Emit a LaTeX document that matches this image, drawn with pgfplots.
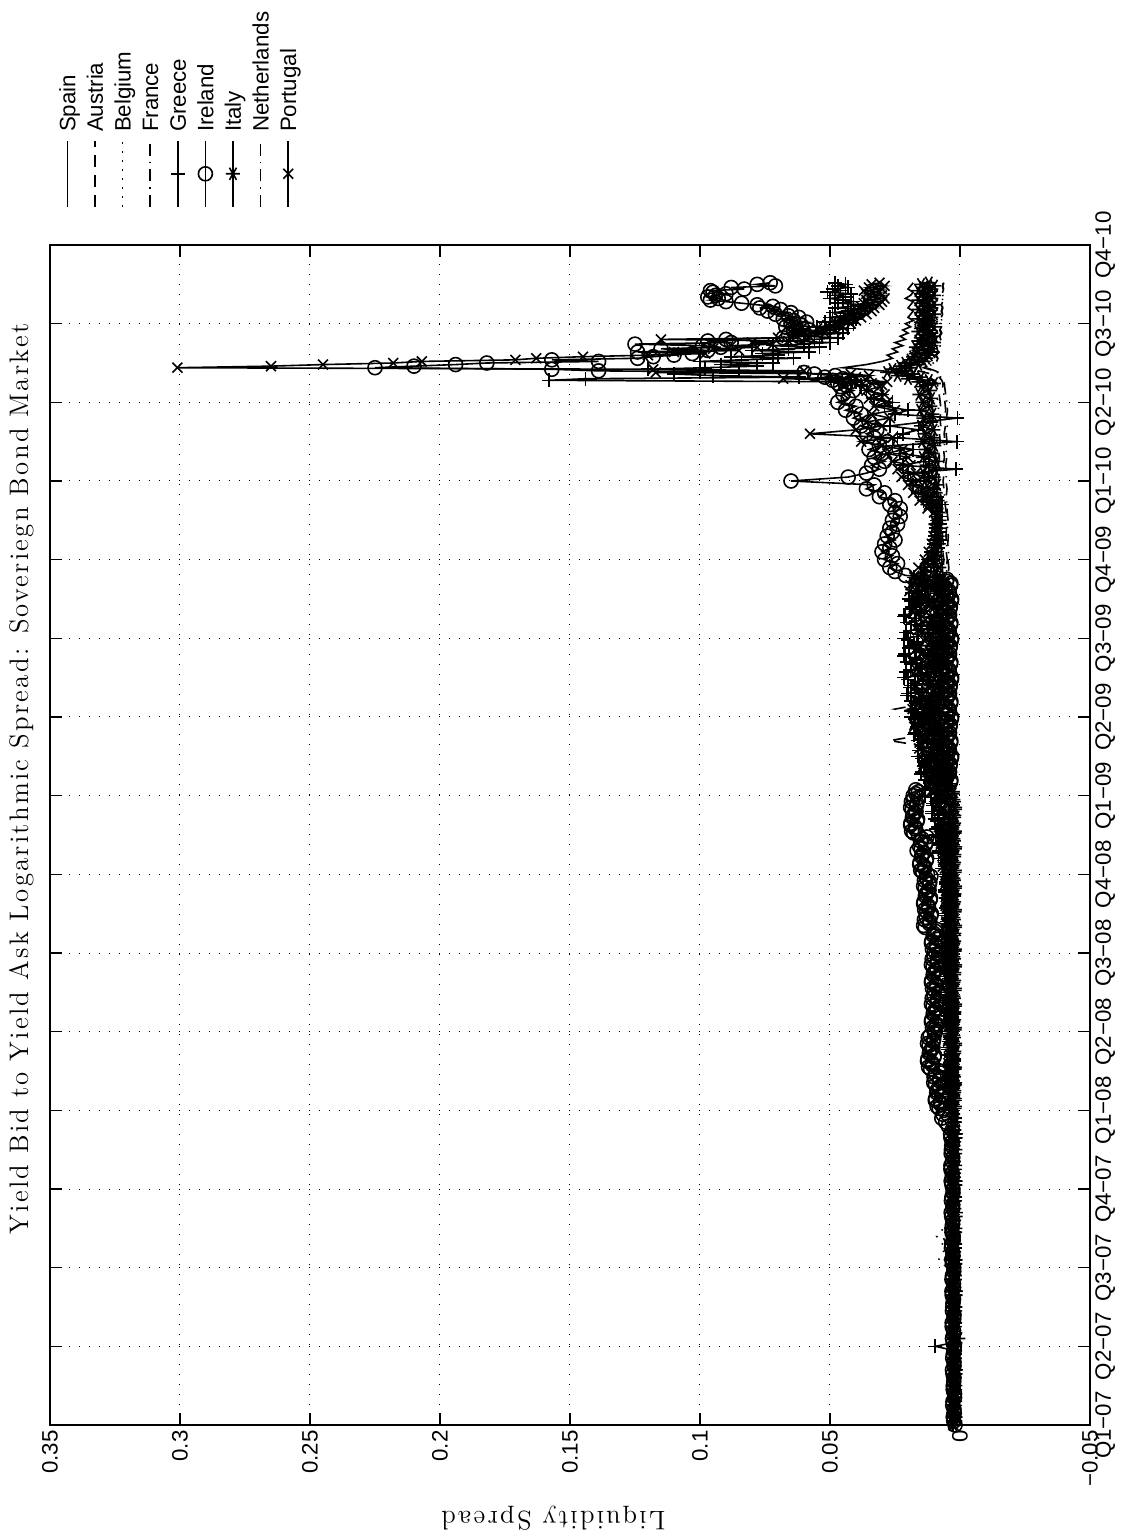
\documentclass[border=0pt]{standalone}
\usepackage{fontspec}
\newfontfamily\arial{Liberation Sans}
\newfontfamily\lmsp{lmroman12-regular.otf}[LetterSpace=8.5]
\usepackage{pgfplots}
\usepackage{pgfplotstable}
\pgfplotsset{compat=1.18}
% Series drawn as plain lines: Spain, Austria, Belgium, France, Netherlands
\pgfplotstableread{
t sp au be fr nl
0.00 0.0017 0.0022 0.0020 0.0015 0.0018
0.15 0.0019 0.0020 0.0022 0.0016 0.0020
0.30 0.0016 0.0023 0.0019 0.0014 0.0017
0.45 0.0018 0.0021 0.0023 0.0017 0.0021
0.60 0.0020 0.0019 0.0021 0.0015 0.0019
0.75 0.0017 0.0024 0.0020 0.0016 0.0018
0.90 0.0015 0.0022 0.0024 0.0018 0.0020
1.05 0.0019 0.0020 0.0021 0.0015 0.0019
1.20 0.0018 0.0023 0.0022 0.0017 0.0021
1.35 0.0016 0.0021 0.0023 0.0014 0.0018
1.50 0.0019 0.0024 0.0021 0.0016 0.0020
1.65 0.0017 0.0022 0.0025 0.0015 0.0019
1.80 0.0020 0.0025 0.0027 0.0017 0.0022
1.95 0.0018 0.0029 0.0034 0.0016 0.0020
2.10 0.0021 0.0060 0.0082 0.0018 0.0023
2.25 0.0019 0.0042 0.0056 0.0017 0.0022
2.40 0.0022 0.0068 0.0090 0.0019 0.0024
2.55 0.0020 0.0038 0.0050 0.0016 0.0021
2.70 0.0021 0.0030 0.0036 0.0018 0.0023
2.85 0.0019 0.0027 0.0030 0.0017 0.0022
3.00 0.0022 0.0028 0.0027 0.0019 0.0024
3.15 0.0020 0.0026 0.0030 0.0018 0.0023
3.30 0.0023 0.0029 0.0028 0.0020 0.0025
3.45 0.0021 0.0027 0.0031 0.0018 0.0024
3.60 0.0024 0.0030 0.0029 0.0021 0.0026
3.75 0.0022 0.0028 0.0032 0.0019 0.0025
3.90 0.0025 0.0031 0.0030 0.0022 0.0027
4.0 0.0025 0.0030 0.0029 0.0021 0.0026
4.1 0.0027 0.0028 0.0031 0.0023 0.0028
4.2 0.0024 0.0032 0.0029 0.0020 0.0025
4.3 0.0028 0.0029 0.0032 0.0024 0.0029
4.4 0.0026 0.0033 0.0030 0.0022 0.0027
4.5 0.0029 0.0031 0.0034 0.0021 0.0030
4.6 0.0027 0.0034 0.0031 0.0025 0.0028
4.7 0.0030 0.0032 0.0035 0.0023 0.0031
4.8 0.0028 0.0035 0.0033 0.0022 0.0029
4.9 0.0031 0.0033 0.0036 0.0026 0.0032
5.0 0.0029 0.0036 0.0034 0.0024 0.0030
5.1 0.0032 0.0034 0.0037 0.0023 0.0031
5.2 0.0030 0.0037 0.0035 0.0027 0.0029
5.3 0.0033 0.0035 0.0038 0.0025 0.0032
5.4 0.0031 0.0038 0.0036 0.0024 0.0030
5.5 0.0034 0.0036 0.0039 0.0028 0.0033
5.6 0.0032 0.0039 0.0037 0.0026 0.0031
5.7 0.0035 0.0037 0.0040 0.0025 0.0034
5.8 0.0033 0.0040 0.0038 0.0029 0.0032
5.9 0.0036 0.0038 0.0041 0.0027 0.0035
6.0 0.0034 0.0041 0.0039 0.0026 0.0033
6.1 0.0037 0.0039 0.0042 0.0030 0.0036
6.2 0.0035 0.0042 0.0040 0.0028 0.0034
6.3 0.0038 0.0040 0.0043 0.0027 0.0037
6.4 0.0036 0.0043 0.0041 0.0031 0.0035
6.5 0.0039 0.0041 0.0044 0.0029 0.0038
6.6 0.0037 0.0044 0.0042 0.0028 0.0036
6.7 0.0040 0.0042 0.0045 0.0032 0.0039
6.8 0.0038 0.0045 0.0043 0.0030 0.0037
6.9 0.0041 0.0043 0.0046 0.0029 0.0040
7.0 0.0042 0.0047 0.0048 0.0031 0.0038
7.1 0.0040 0.0049 0.0050 0.0030 0.0039
7.2 0.0043 0.0052 0.0049 0.0033 0.0040
7.3 0.0041 0.0050 0.0052 0.0032 0.0041
7.4 0.0044 0.0054 0.0051 0.0034 0.0039
7.5 0.0042 0.0056 0.0054 0.0033 0.0042
7.6 0.0045 0.0053 0.0053 0.0035 0.0040
7.7 0.0043 0.0058 0.0056 0.0034 0.0043
7.8 0.0046 0.0056 0.0055 0.0036 0.0041
7.9 0.0044 0.0060 0.0058 0.0035 0.0044
8.0 0.0060 0.0076 0.0072 0.0043 0.0056
8.1 0.0063 0.0080 0.0075 0.0046 0.0059
8.2 0.0061 0.0078 0.0078 0.0044 0.0062
8.3 0.0066 0.0083 0.0076 0.0049 0.0065
8.4 0.0064 0.0081 0.0080 0.0047 0.0068
8.5 0.0069 0.0086 0.0083 0.0052 0.0071
8.6 0.0067 0.0084 0.0081 0.0050 0.0074
8.7 0.0072 0.0270 0.0085 0.0055 0.0077
8.8 0.0070 0.0090 0.0088 0.0053 0.0080
8.9 0.0075 0.0088 0.0086 0.0058 0.0078
9.0 0.0078 0.0093 0.0090 0.0060 0.0082
9.1 0.0076 0.0250 0.0093 0.0200 0.0080
9.2 0.0080 0.0091 0.0091 0.0062 0.0077
9.3 0.0077 0.0088 0.0089 0.0059 0.0074
9.4 0.0074 0.0085 0.0086 0.0057 0.0071
9.5 0.0076 0.0082 0.0088 0.0055 0.0068
9.6 0.0072 0.0079 0.0084 0.0053 0.0066
9.7 0.0074 0.0076 0.0082 0.0054 0.0063
9.8 0.0070 0.0078 0.0079 0.0051 0.0060
9.9 0.0068 0.0074 0.0077 0.0052 0.0058
10.0 0.0071 0.0071 0.0075 0.0049 0.0056
10.1 0.0067 0.0073 0.0073 0.0050 0.0054
10.2 0.0069 0.0070 0.0071 0.0047 0.0055
10.3 0.0065 0.0068 0.0069 0.0048 0.0053
10.4 0.0067 0.0066 0.0070 0.0046 0.0051
10.5 0.0064 0.0064 0.0068 0.0047 0.0052
10.6 0.0066 0.0062 0.0066 0.0045 0.0050
10.7 0.0063 0.0060 0.0067 0.0046 0.0051
10.8 0.0065 0.0061 0.0068 0.0045 0.0050
10.9 0.0068 0.0064 0.0070 0.0043 0.0052
11.0 0.0070 0.0062 0.0072 0.0046 0.0049
11.1 0.0073 0.0066 0.0069 0.0044 0.0053
11.2 0.0071 0.0064 0.0073 0.0047 0.0051
11.3 0.0075 0.0068 0.0071 0.0045 0.0054
11.4 0.0073 0.0066 0.0075 0.0048 0.0052
11.5 0.0077 0.0070 0.0073 0.0046 0.0055
11.6 0.0075 0.0068 0.0077 0.0049 0.0053
11.7 0.0079 0.0072 0.0079 0.0051 0.0057
11.8 0.0083 0.0075 0.0082 0.0053 0.0059
11.9 0.0087 0.0078 0.0086 0.0050 0.0062
12.0 0.0094 0.0084 0.0092 0.0054 0.0065
12.1 0.0090 0.0080 0.0088 0.0052 0.0061
12.2 0.0096 0.0083 0.0091 0.0055 0.0064
12.3 0.0092 0.0079 0.0087 0.0051 0.0060
12.4 0.0098 0.0082 0.0090 0.0054 0.0063
12.5 0.0101 0.0076 0.0085 0.0050 0.0058
12.6 0.0097 0.0079 0.0088 0.0053 0.0061
12.7 0.0103 0.0074 0.0083 0.0049 0.0056
12.8 0.0108 0.0077 0.0086 0.0052 0.0059
12.9 0.0104 0.0073 0.0082 0.0048 0.0055
13.0 0.0110 0.0076 0.0085 0.0051 0.0058
13.1 0.0115 0.0080 0.0089 0.0055 0.0062
13.2 0.0122 0.0085 0.0094 0.0059 0.0066
13.24 0.013 0.0088 0.0096 0.0060 0.0065
13.28 0.016 0.010 0.011 0.0065 0.0070
13.32 0.020 0.012 0.013 0.0075 0.0080
13.36 0.018 0.011 0.012 0.0070 0.0074
13.40 0.030 0.016 0.018 0.0095 0.010
13.44 0.045 0.022 0.026 0.013 0.014
13.48 0.036 0.018 0.020 0.011 0.011
13.52 0.030 0.014 0.016 0.0090 0.0095
13.56 0.026 0.013 0.015 0.0085 0.0088
13.60 0.028 0.015 0.017 0.0092 0.0094
13.64 0.024 0.012 0.014 0.0080 0.0083
13.68 0.026 0.014 0.016 0.0086 0.0089
13.72 0.022 0.011 0.013 0.0076 0.0079
13.76 0.025 0.013 0.015 0.0082 0.0085
13.80 0.021 0.011 0.013 0.0074 0.0076
13.84 0.023 0.012 0.014 0.0078 0.0081
13.88 0.020 0.010 0.012 0.0070 0.0073
13.92 0.022 0.012 0.014 0.0076 0.0078
13.96 0.019 0.010 0.012 0.0069 0.0071
14.00 0.021 0.011 0.013 0.0073 0.0075
14.04 0.018 0.010 0.012 0.0068 0.0070
14.08 0.020 0.012 0.013 0.0072 0.0074
14.12 0.019 0.010 0.011 0.0067 0.0069
14.16 0.018 0.0095 0.012 0.0070 0.0072
14.20 0.020 0.011 0.013 0.0066 0.0068
14.24 0.019 0.010 0.012 0.0069 0.0071
14.28 0.018 0.0098 0.011 0.0065 0.0067
14.32 0.021 0.0105 0.013 0.0068 0.0070
14.36 0.019 0.0096 0.012 0.0064 0.0066
14.40 0.018 0.010 0.011 0.0067 0.0069
14.44 0.020 0.0094 0.012 0.0063 0.0065
14.48 0.019 0.010 0.011 0.0066 0.0068
14.52 0.018 0.0092 0.012 0.0062 0.0064
}\lines
% Series drawn with markers: Greece (+), Ireland (o), Italy (*), Portugal (x)
\pgfplotstableread{
t gr ie it pt
0.0 0.0028 0.0019 0.0026 0.0026
0.05 0.0021 0.0024 0.0018 0.0024
0.1 0.0020 0.0026 0.0017 0.0022
0.15 0.0027 0.0022 0.0024 0.0027
0.2 0.0025 0.0023 0.0023 0.0029
0.25 0.0019 0.0028 0.0021 0.0022
0.3 0.0018 0.0027 0.0019 0.0021
0.35 0.0024 0.0021 0.0024 0.0028
0.4 0.0027 0.0021 0.0026 0.0026
0.45 0.0022 0.0026 0.0019 0.0020
0.5 0.0022 0.0026 0.0018 0.0019
0.55 0.0028 0.0024 0.0025 0.0025
0.6 0.0028 0.0023 0.0023 0.0028
0.65 0.0020 0.0027 0.0017 0.0023
0.7 0.0019 0.0029 0.0016 0.0023
0.75 0.0026 0.0023 0.0022 0.0029
0.8 0.0025 0.0023 0.0025 0.0029
0.85 0.0023 0.0028 0.0020 0.0021
0.9 0.0021 0.0026 0.0020 0.0020
0.95 0.0026 0.0022 0.0026 0.0027
1.0 0.0095 0.0022 0.0026 0.0026
1.05 0.0021 0.0026 0.0018 0.0024
1.1 0.0020 0.0029 0.0006 0.0022
1.15 0.0027 0.0025 0.0024 0.0027
1.2 0.0025 0.0025 0.0023 0.0029
1.25 0.0019 0.0030 0.0021 0.0022
1.3 0.0018 0.0030 0.0019 0.0021
1.35 0.0024 0.0024 0.0024 0.0028
1.4 0.0027 0.0023 0.0026 0.0026
1.45 0.0022 0.0029 0.0019 0.0020
1.5 0.0022 0.0028 0.0018 0.0019
1.55 0.0028 0.0027 0.0025 0.0025
1.6 0.0028 0.0025 0.0023 0.0028
1.65 0.0020 0.0030 0.0017 0.0023
1.7 0.0019 0.0031 0.0016 0.0023
1.75 0.0026 0.0025 0.0022 0.0029
1.8 0.0025 0.0025 0.0025 0.0029
1.85 0.0023 0.0031 0.0020 0.0021
1.9 0.0021 0.0029 0.0020 0.0020
1.95 0.0026 0.0024 0.0026 0.0027
2.0 0.0028 0.0024 0.0026 0.0026
2.05 0.0021 0.0029 0.0018 0.0024
2.1 0.0020 0.0031 0.0017 0.0022
2.15 0.0027 0.0027 0.0024 0.0027
2.2 0.0025 0.0028 0.0023 0.0029
2.25 0.0019 0.0033 0.0021 0.0022
2.3 0.0018 0.0032 0.0019 0.0021
2.35 0.0024 0.0026 0.0024 0.0028
2.4 0.0027 0.0026 0.0026 0.0026
2.45 0.0022 0.0031 0.0019 0.0020
2.5 0.0022 0.0031 0.0018 0.0019
2.55 0.0028 0.0029 0.0025 0.0025
2.6 0.0028 0.0028 0.0023 0.0028
2.65 0.0020 0.0032 0.0017 0.0023
2.7 0.0019 0.0034 0.0016 0.0023
2.75 0.0026 0.0028 0.0022 0.0029
2.8 0.0025 0.0028 0.0025 0.0029
2.85 0.0023 0.0033 0.0020 0.0021
2.9 0.0021 0.0031 0.0020 0.0020
2.95 0.0026 0.0027 0.0026 0.0027
3.0 0.0028 0.0027 0.0026 0.0026
3.05 0.0021 0.0031 0.0018 0.0024
3.1 0.0020 0.0034 0.0017 0.0022
3.15 0.0027 0.0030 0.0024 0.0027
3.2 0.0025 0.0030 0.0023 0.0029
3.25 0.0019 0.0035 0.0021 0.0022
3.3 0.0018 0.0035 0.0019 0.0021
3.35 0.0024 0.0029 0.0024 0.0028
3.4 0.0027 0.0028 0.0026 0.0026
3.45 0.0022 0.0034 0.0019 0.0020
3.5 0.0022 0.0033 0.0018 0.0019
3.55 0.0028 0.0032 0.0025 0.0025
3.6 0.0028 0.0030 0.0023 0.0028
3.65 0.0020 0.0035 0.0017 0.0023
3.7 0.0019 0.0036 0.0016 0.0023
3.75 0.0026 0.0030 0.0022 0.0029
3.8 0.0025 0.0045 0.0025 0.0029
3.85 0.0023 0.0055 0.0020 0.0021
3.9 0.0021 0.0070 0.0020 0.0020
3.95 0.0026 0.0066 0.0026 0.0027
4.00 0.0042 0.0061 0.0032 0.0035
4.025 0.0024 0.0080 0.0021 0.0029
4.05 0.0023 0.0088 0.0020 0.0025
4.075 0.0040 0.0074 0.0030 0.0038
4.10 0.0034 0.0076 0.0029 0.0043
4.125 0.0020 0.0095 0.0025 0.0025
4.15 0.0019 0.0094 0.0023 0.0024
4.175 0.0033 0.0070 0.0030 0.0041
4.20 0.0040 0.0070 0.0033 0.0035
4.225 0.0028 0.0090 0.0023 0.0020
4.25 0.0029 0.0089 0.0022 0.0019
4.275 0.0044 0.0082 0.0032 0.0034
4.30 0.0043 0.0078 0.0028 0.0040
4.325 0.0024 0.0094 0.0020 0.0028
4.35 0.0023 0.0101 0.0019 0.0029
4.375 0.0038 0.0079 0.0027 0.0044
4.40 0.0037 0.0078 0.0031 0.0043
4.425 0.0031 0.0100 0.0024 0.0024
4.45 0.0028 0.0093 0.0025 0.0023
4.475 0.0040 0.0076 0.0033 0.0038
4.50 0.0045 0.0075 0.0032 0.0037
4.525 0.0027 0.0113 0.0021 0.0031
4.55 0.0026 0.0121 0.0020 0.0028
4.575 0.0043 0.0106 0.0030 0.0040
4.60 0.0037 0.0107 0.0029 0.0045
4.625 0.0023 0.0125 0.0025 0.0027
4.65 0.0022 0.0124 0.0023 0.0026
4.675 0.0036 0.0100 0.0030 0.0043
4.70 0.0043 0.0098 0.0033 0.0037
4.725 0.0031 0.0118 0.0023 0.0023
4.75 0.0032 0.0116 0.0022 0.0022
4.775 0.0047 0.0109 0.0032 0.0036
4.80 0.0046 0.0104 0.0028 0.0042
4.825 0.0027 0.0119 0.0020 0.0031
4.85 0.0026 0.0125 0.0019 0.0032
4.875 0.0041 0.0103 0.0027 0.0046
4.90 0.0040 0.0101 0.0031 0.0045
4.925 0.0034 0.0122 0.0024 0.0026
4.95 0.0031 0.0115 0.0025 0.0025
4.975 0.0043 0.0097 0.0033 0.0041
5.00 0.0048 0.0095 0.0032 0.0040
5.025 0.0030 0.0098 0.0021 0.0034
5.05 0.0029 0.0106 0.0020 0.0030
5.075 0.0046 0.0091 0.0030 0.0043
5.10 0.0040 0.0092 0.0029 0.0048
5.125 0.0026 0.0110 0.0025 0.0030
5.15 0.0025 0.0109 0.0023 0.0029
5.175 0.0039 0.0085 0.0030 0.0045
5.20 0.0046 0.0083 0.0033 0.0040
5.225 0.0034 0.0103 0.0023 0.0025
5.25 0.0035 0.0101 0.0022 0.0024
5.275 0.0050 0.0094 0.0032 0.0039
5.30 0.0049 0.0089 0.0028 0.0045
5.325 0.0030 0.0104 0.0020 0.0033
5.35 0.0029 0.0110 0.0019 0.0034
5.375 0.0044 0.0088 0.0027 0.0049
5.40 0.0043 0.0086 0.0031 0.0048
5.425 0.0037 0.0107 0.0024 0.0029
5.45 0.0034 0.0100 0.0025 0.0028
5.475 0.0046 0.0082 0.0033 0.0043
5.50 0.0051 0.0080 0.0032 0.0042
5.525 0.0033 0.0098 0.0021 0.0036
5.55 0.0032 0.0106 0.0020 0.0033
5.575 0.0049 0.0091 0.0030 0.0045
5.60 0.0043 0.0092 0.0029 0.0050
5.625 0.0029 0.0110 0.0025 0.0032
5.65 0.0028 0.0109 0.0023 0.0031
5.675 0.0042 0.0085 0.0030 0.0048
5.70 0.0049 0.0083 0.0033 0.0042
5.725 0.0037 0.0103 0.0023 0.0028
5.75 0.0038 0.0101 0.0022 0.0027
5.775 0.0053 0.0094 0.0032 0.0041
5.80 0.0052 0.0089 0.0028 0.0047
5.825 0.0033 0.0104 0.0020 0.0036
5.85 0.0032 0.0110 0.0019 0.0037
5.875 0.0047 0.0088 0.0027 0.0051
5.90 0.0046 0.0086 0.0031 0.0050
5.925 0.0040 0.0107 0.0024 0.0031
5.95 0.0037 0.0100 0.0025 0.0030
5.975 0.0049 0.0082 0.0033 0.0046
6.00 0.0054 0.0080 0.0032 0.0045
6.025 0.0036 0.0098 0.0021 0.0039
6.05 0.0035 0.0106 0.0020 0.0035
6.075 0.0052 0.0091 0.0030 0.0048
6.10 0.0046 0.0092 0.0029 0.0053
6.125 0.0032 0.0110 0.0025 0.0035
6.15 0.0031 0.0109 0.0023 0.0034
6.175 0.0045 0.0085 0.0030 0.0051
6.20 0.0052 0.0083 0.0033 0.0045
6.225 0.0040 0.0103 0.0023 0.0030
6.25 0.0041 0.0101 0.0022 0.0029
6.275 0.0056 0.0094 0.0032 0.0044
6.30 0.0055 0.0089 0.0028 0.0050
6.325 0.0036 0.0134 0.0020 0.0038
6.35 0.0035 0.0140 0.0019 0.0039
6.375 0.0050 0.0118 0.0027 0.0054
6.40 0.0049 0.0116 0.0031 0.0053
6.425 0.0043 0.0137 0.0024 0.0034
6.45 0.0040 0.0130 0.0025 0.0033
6.475 0.0052 0.0112 0.0033 0.0048
6.50 0.0057 0.0110 0.0032 0.0047
6.525 0.0039 0.0128 0.0021 0.0041
6.55 0.0038 0.0136 0.0020 0.0038
6.575 0.0055 0.0121 0.0030 0.0050
6.60 0.0049 0.0122 0.0029 0.0055
6.625 0.0035 0.0140 0.0025 0.0037
6.65 0.0034 0.0139 0.0023 0.0036
6.675 0.0048 0.0115 0.0030 0.0053
6.70 0.0055 0.0113 0.0033 0.0047
6.725 0.0043 0.0133 0.0023 0.0033
6.75 0.0044 0.0131 0.0022 0.0032
6.775 0.0059 0.0124 0.0032 0.0046
6.80 0.0058 0.0119 0.0028 0.0052
6.825 0.0039 0.0134 0.0020 0.0041
6.85 0.0038 0.0140 0.0019 0.0042
6.875 0.0053 0.0118 0.0027 0.0056
6.90 0.0052 0.0116 0.0031 0.0055
6.925 0.0046 0.0137 0.0024 0.0036
6.95 0.0043 0.0130 0.0025 0.0035
6.975 0.0055 0.0112 0.0033 0.0051
7.00 0.0068 0.0125 0.0032 0.0052
7.025 0.0039 0.0143 0.0021 0.0044
7.05 0.0039 0.0151 0.0020 0.0039
7.075 0.0068 0.0136 0.0030 0.0058
7.10 0.0059 0.0137 0.0029 0.0066
7.125 0.0037 0.0155 0.0025 0.0040
7.15 0.0036 0.0154 0.0023 0.0039
7.175 0.0061 0.0130 0.0030 0.0065
7.20 0.0072 0.0128 0.0033 0.0056
7.225 0.0054 0.0148 0.0023 0.0036
7.25 0.0057 0.0146 0.0022 0.0035
7.275 0.0082 0.0139 0.0032 0.0057
7.30 0.0082 0.0165 0.0028 0.0067
7.325 0.0051 0.0149 0.0020 0.0049
7.35 0.0050 0.0155 0.0019 0.0052
7.375 0.0078 0.0133 0.0027 0.0074
7.40 0.0077 0.0131 0.0031 0.0073
7.425 0.0068 0.0152 0.0024 0.0045
7.45 0.0063 0.0145 0.0025 0.0044
7.475 0.0085 0.0127 0.0033 0.0068
7.50 0.0094 0.0160 0.0032 0.0067
7.525 0.0065 0.0178 0.0021 0.0059
7.55 0.0065 0.0186 0.0020 0.0054
7.575 0.0094 0.0171 0.0030 0.0073
7.60 0.0085 0.0172 0.0029 0.0081
7.625 0.0063 0.0190 0.0025 0.0055
7.65 0.0062 0.0189 0.0023 0.0054
7.675 0.0087 0.0165 0.0030 0.0080
7.70 0.0098 0.0163 0.0033 0.0071
7.725 0.0080 0.0183 0.0023 0.0051
7.75 0.0083 0.0181 0.0022 0.0050
7.775 0.0108 0.0174 0.0032 0.0072
7.80 0.0108 0.0169 0.0028 0.0082
7.825 0.0077 0.0184 0.0020 0.0064
7.85 0.0076 0.0190 0.0019 0.0067
7.875 0.0104 0.0168 0.0027 0.0089
7.90 0.0103 0.0166 0.0031 0.0088
7.925 0.0094 0.0187 0.0024 0.0060
7.95 0.0089 0.0180 0.0025 0.0059
7.975 0.0111 0.0162 0.0033 0.0083
8.00 0.0135 0.0180 0.0058 0.0094
8.025 0.0084 0.0170 0.0028 0.0078
8.05 0.0082 0.0160 0.0027 0.0070
8.075 0.0132 0.0170 0.0055 0.0106
8.10 0.0116 0.0090 0.0054 0.0122
8.125 0.0075 0.0070 0.0046 0.0071
8.15 0.0073 0.0057 0.0041 0.0070
8.175 0.0116 0.0036 0.0063 0.0120
8.20 0.0135 0.0035 0.0072 0.0105
8.225 0.0102 0.0052 0.0044 0.0064
8.25 0.0106 0.0050 0.0043 0.0063
8.275 0.0150 0.0044 0.0073 0.0106
8.30 0.0148 0.0040 0.0064 0.0126
8.325 0.0093 0.0053 0.0042 0.0092
8.35 0.0091 0.0058 0.0041 0.0098
8.375 0.0138 0.0039 0.0067 0.0141
8.40 0.0135 0.0037 0.0078 0.0140
8.425 0.0119 0.0055 0.0060 0.0085
8.45 0.0110 0.0049 0.0063 0.0084
8.475 0.0146 0.0033 0.0089 0.0131
8.50 0.0162 0.0032 0.0088 0.0129
8.525 0.0111 0.0048 0.0058 0.0113
8.55 0.0108 0.0054 0.0057 0.0105
8.575 0.0159 0.0041 0.0085 0.0141
8.60 0.0143 0.0042 0.0084 0.0157
8.625 0.0102 0.0058 0.0076 0.0106
8.65 0.0100 0.0057 0.0071 0.0105
8.675 0.0143 0.0036 0.0093 0.0155
8.70 0.0162 0.0035 0.0102 0.0140
8.725 0.0128 0.0052 0.0074 0.0099
8.75 0.0133 0.0050 0.0073 0.0098
8.775 0.0176 0.0044 0.0103 0.0141
8.80 0.0174 0.0040 0.0094 0.0161
8.825 0.0120 0.0053 0.0072 0.0127
8.85 0.0117 0.0058 0.0071 0.0133
8.875 0.0164 0.0039 0.0097 0.0176
8.90 0.0162 0.0037 0.0108 0.0175
8.925 0.0146 0.0055 0.0090 0.0120
8.95 0.0137 0.0049 0.0093 0.0119
8.975 0.0173 0.0033 0.0119 0.0166
9.00 0.0188 0.0032 0.0118 0.0164
9.025 0.0137 0.0048 0.0082 0.0146
9.05 0.0135 0.0054 0.0079 0.0135
9.075 0.0185 0.0041 0.0112 0.0169
9.10 0.0169 0.0042 0.0109 0.0182
9.125 0.0129 0.0058 0.0096 0.0129
9.15 0.0126 0.0057 0.0088 0.0125
9.175 0.0170 0.0036 0.0113 0.0173
9.20 0.0189 0.0035 0.0123 0.0155
9.225 0.0155 0.0052 0.0085 0.0112
9.25 0.0160 0.0050 0.0082 0.0108
9.275 0.0203 0.0044 0.0117 0.0149
9.30 0.0201 0.0040 0.0104 0.0166
9.325 0.0146 0.0053 0.0074 0.0130
9.35 0.0144 0.0058 0.0071 0.0133
9.375 0.0191 0.0039 0.0101 0.0174
9.40 0.0189 0.0037 0.0113 0.0170
9.425 0.0173 0.0055 0.0088 0.0113
9.45 0.0163 0.0049 0.0090 0.0109
9.475 0.0200 0.0033 0.0120 0.0153
9.50 0.0215 0.0032 0.0117 0.0149
9.525 0.0163 0.0048 0.0077 0.0131
9.55 0.0159 0.0054 0.0074 0.0120
9.575 0.0208 0.0041 0.0106 0.0154
9.60 0.0191 0.0042 0.0103 0.0167
9.625 0.0149 0.0058 0.0091 0.0114
9.65 0.0145 0.0057 0.0083 0.0110
9.675 0.0187 0.0036 0.0108 0.0158
9.70 0.0205 0.0035 0.0117 0.0140
9.725 0.0170 0.0052 0.0080 0.0097
9.75 0.0173 0.0050 0.0076 0.0093
9.775 0.0215 0.0044 0.0111 0.0134
9.80 0.0212 0.0040 0.0098 0.0151
9.825 0.0156 0.0053 0.0068 0.0115
9.85 0.0152 0.0058 0.0065 0.0118
9.875 0.0198 0.0039 0.0095 0.0159
9.90 0.0194 0.0037 0.0107 0.0155
9.925 0.0177 0.0055 0.0082 0.0098
9.95 0.0166 0.0049 0.0084 0.0094
9.975 0.0201 0.0033 0.0114 0.0138
10.00 0.0215 0.0032 0.0111 0.0134
10.025 0.0163 0.0048 0.0071 0.0118
10.05 0.0159 0.0054 0.0068 0.0109
10.075 0.0208 0.0041 0.0101 0.0146
10.10 0.0191 0.0042 0.0097 0.0162
10.125 0.0149 0.0058 0.0085 0.0110
10.15 0.0145 0.0057 0.0077 0.0109
10.175 0.0187 0.0036 0.0102 0.0159
10.20 0.0205 0.0035 0.0111 0.0144
10.225 0.0170 0.0052 0.0074 0.0103
10.25 0.0173 0.0050 0.0071 0.0102
10.275 0.0215 0.0044 0.0106 0.0144
10.30 0.0212 0.0040 0.0093 0.0165
10.325 0.0154 0.0053 0.0063 0.0130
10.35 0.0148 0.0058 0.0060 0.0136
10.375 0.0192 0.0039 0.0090 0.0178
10.40 0.0185 0.0037 0.0102 0.0178
10.425 0.0167 0.0055 0.0077 0.0122
10.45 0.0153 0.0049 0.0078 0.0122
10.475 0.0187 0.0033 0.0109 0.0167
10.50 0.0197 0.0032 0.0105 0.0167
10.525 0.0145 0.0048 0.0066 0.0149
10.55 0.0137 0.0054 0.0062 0.0143
10.575 0.0186 0.0041 0.0095 0.0177
10.60 0.0164 0.0042 0.0092 0.0195
10.625 0.0123 0.0058 0.0079 0.0142
10.65 0.0114 0.0057 0.0071 0.0142
10.675 0.0157 0.0036 0.0096 0.0190
10.70 0.0169 0.0035 0.0106 0.0177
10.725 0.0136 0.0052 0.0068 0.0134
10.75 0.0133 0.0050 0.0065 0.0135
10.775 0.0177 0.0120 0.0100 0.0175
10.80 0.0150 0.0210 0.0083 0.0175
10.85 0.0113 0.0250 0.0096 0.0140
10.90 0.0138 0.0270 0.0079 0.0160
10.95 0.0101 0.0240 0.0099 0.0128
11.00 0.0122 0.0290 0.0084 0.0135
11.05 0.0090 0.0260 0.0101 0.0105
11.10 0.0110 0.0300 0.0088 0.0120
11.15 0.0084 0.0270 0.0096 0.0096
11.20 0.0100 0.0290 0.0081 0.0108
11.25 0.0078 0.0250 0.0098 0.0090
11.30 0.0096 0.0280 0.0086 0.0102
11.35 0.0080 0.0260 0.0093 0.0088
11.40 0.0094 0.0270 0.0080 0.0098
11.45 0.0075 0.0240 0.0095 0.0085
11.50 0.0090 0.0260 0.0083 0.0096
11.55 0.0076 0.0230 0.0092 0.0089
11.60 0.0088 0.0250 0.0085 0.0100
11.65 0.0110 0.0230 0.0090 0.0125
11.70 0.0070 0.0270 0.0125 0.0098
11.75 0.0140 0.0250 0.0086 0.0155
11.80 0.0090 0.0310 0.0130 0.0120
11.85 0.0160 0.0290 0.0094 0.0180
11.90 0.0100 0.0360 0.0122 0.0140
11.95 0.0180 0.0330 0.0088 0.0200
12.00 0.0190 0.0650 0.0135 0.0160
12.05 0.0120 0.0430 0.0101 0.0225
12.10 0.0200 0.0360 0.0140 0.0170
12.15 0.0015 0.0310 0.0096 0.0240
12.20 0.0220 0.0340 0.0128 0.0190
12.25 0.0140 0.0290 0.0092 0.0260
12.30 0.0120 0.0330 0.0143 0.0200
12.35 0.0230 0.0300 0.0105 0.0280
12.40 0.0180 0.0350 0.0132 0.0220
12.45 0.0260 0.0310 0.0099 0.0300
12.50 0.0012 0.0280 0.0146 0.0380
12.55 0.0240 0.0330 0.0108 0.0260
12.60 0.0220 0.0360 0.0137 0.0577
12.65 0.0160 0.0320 0.0102 0.0400
12.70 0.0270 0.0380 0.0150 0.0300
12.75 0.0140 0.0350 0.0110 0.0360
12.80 0.0010 0.0410 0.0141 0.0270
12.85 0.0250 0.0380 0.0106 0.0340
12.90 0.0200 0.0440 0.0153 0.0250
12.95 0.0290 0.0400 0.0114 0.0330
13.00 0.0260 0.0470 0.0145 0.0280
13.05 0.0330 0.0430 0.0111 0.0350
13.10 0.0300 0.0450 0.0156 0.0290
13.15 0.0360 0.0410 0.0118 0.0360
13.20 0.0380 0.0460 0.0149 0.0310
13.22 0.038 0.044 0.013 0.030
13.24 0.042 0.047 0.010 0.034
13.26 0.040 0.042 0.016 0.028
13.28 0.158 0.049 0.012 0.036
13.30 0.144 0.045 0.020 0.068
13.32 0.062 0.052 0.015 0.040
13.34 0.095 0.048 0.024 0.035
13.36 0.110 0.056 0.018 0.042
13.38 0.100 0.060 0.028 0.117
13.40 0.085 0.139 0.021 0.060
13.42 0.120 0.157 0.026 0.118
13.44 0.098 0.225 0.019 0.301
13.46 0.078 0.210 0.023 0.265
13.48 0.092 0.194 0.016 0.245
13.50 0.072 0.182 0.021 0.218
13.52 0.100 0.139 0.014 0.207
13.54 0.084 0.157 0.019 0.171
13.56 0.064 0.124 0.013 0.163
13.58 0.088 0.118 0.018 0.145
13.60 0.070 0.110 0.012 0.120
13.62 0.076 0.103 0.017 0.098
13.64 0.058 0.124 0.011 0.110
13.66 0.080 0.097 0.016 0.085
13.68 0.066 0.115 0.012 0.095
13.70 0.054 0.092 0.017 0.078
13.72 0.072 0.099 0.011 0.088
13.74 0.060 0.125 0.015 0.072
13.76 0.050 0.088 0.010 0.080
13.78 0.066 0.097 0.016 0.066
13.80 0.056 0.090 0.012 0.115
13.82 0.047 0.068 0.015 0.070
13.84 0.060 0.062 0.010 0.058
13.86 0.053 0.066 0.014 0.064
13.88 0.045 0.060 0.011 0.052
13.90 0.058 0.064 0.016 0.060
13.92 0.050 0.058 0.012 0.048
13.94 0.043 0.063 0.015 0.055
13.96 0.055 0.067 0.010 0.045
13.98 0.048 0.061 0.014 0.051
14.00 0.041 0.065 0.011 0.042
14.02 0.052 0.059 0.015 0.048
14.04 0.046 0.064 0.012 0.040
14.06 0.040 0.068 0.016 0.046
14.08 0.050 0.062 0.011 0.038
14.10 0.044 0.066 0.014 0.044
14.12 0.039 0.071 0.010 0.036
14.14 0.049 0.065 0.015 0.042
14.16 0.043 0.074 0.012 0.034
14.18 0.038 0.069 0.016 0.040
14.20 0.048 0.077 0.011 0.033
14.22 0.042 0.072 0.014 0.038
14.24 0.037 0.078 0.010 0.031
14.26 0.047 0.084 0.015 0.037
14.28 0.041 0.090 0.012 0.030
14.30 0.045 0.096 0.016 0.036
14.32 0.050 0.093 0.011 0.029
14.34 0.044 0.097 0.014 0.035
14.36 0.048 0.094 0.010 0.030
14.38 0.042 0.090 0.015 0.036
14.40 0.051 0.095 0.012 0.031
14.42 0.046 0.096 0.016 0.037
14.44 0.049 0.083 0.011 0.030
14.46 0.043 0.088 0.014 0.035
14.48 0.047 0.071 0.010 0.029
14.50 0.044 0.078 0.015 0.034
14.52 0.048 0.073 0.012 0.031
}\marks
\begin{document}
\begin{tikzpicture}[rotate=90, transform shape]
\path[use as bounding box] (-54pt,-17.5pt) rectangle (712.5pt,545pt);
\begin{axis}[
  at={(0,0)}, anchor=south west,
  scale only axis, width=590pt, height=520pt,
  xmin=0, xmax=15, ymin=-0.05, ymax=0.35,
  xtick={0,...,15},
  xticklabels={Q1−07,Q2−07,Q3−07,Q4−07,Q1−08,Q2−08,Q3−08,Q4−08,Q1−09,Q2−09,Q3−09,Q4−09,Q1−10,Q2−10,Q3−10,Q4−10},
  ytick={-0.05,0,0.05,0.1,0.15,0.2,0.25,0.3,0.35},
  yticklabels={−0.05,0,0.05,0.1,0.15,0.2,0.25,0.3,0.35},
  tick align=inside, major tick length=6pt,
  tick style={line width=0.6pt, black},
  xtick pos=both, ytick pos=both,
  grid=major,
  grid style={line width=0.5pt, black, dash pattern=on 0.6pt off 4.4pt},
  axis line style={line width=0.6pt},
  ticklabel style={font=\arial\fontsize{11.15}{13}\selectfont},
  xticklabel style={inner sep=0pt, yshift=-2.5pt},
  yticklabel style={inner sep=0pt, xshift=-2.5pt},
  title={Yield Bid to Yield Ask Logarithmic Spread: Soveriegn Bond Market},
  title style={font=\lmsp\fontsize{13.4}{16}\selectfont, at={(0.5475,1)}, anchor=base, yshift=4.5pt, inner sep=0pt},
  ylabel={Liquidity Spread},
  ylabel style={font=\lmsp\fontsize{13.4}{16}\selectfont, at={(axis description cs:-0.0788,0.516)}, anchor=center, inner sep=0pt},
  legend style={at={(1,1)}, anchor=north west, xshift=18.5pt, yshift=-1.6pt,
    draw=none, fill=none, inner sep=0pt, row sep=0pt, column sep=0pt,
    font=\arial\fontsize{11.15}{13}\selectfont,
    nodes={inner xsep=4pt, inner ysep=0pt, text height=10.9pt, text depth=2.9pt}},
  legend cell align=left,
  legend image code/.code={\draw[mark repeat=2, mark phase=2, #1] plot coordinates {(0pt,0pt) (16.5pt,0pt) (33pt,0pt)};},
  clip mode=individual,
  every axis plot/.append style={line width=0.8pt, black, mark options={solid, line width=0.8pt}},
]
\addplot[mark=none, solid] table[x=t, y=sp]{\lines};
\addlegendentry{Spain}
\addplot[mark=none, dash pattern=on 6pt off 4pt] table[x=t, y=au]{\lines};
\addlegendentry{Austria}
\addplot[mark=none, dash pattern=on 0.7pt off 3.8pt] table[x=t, y=be]{\lines};
\addlegendentry{Belgium}
\addplot[mark=none, dash pattern=on 6pt off 3pt on 0.7pt off 3pt] table[x=t, y=fr]{\lines};
\addlegendentry{France}
\addplot[solid, mark=+, mark size=3.5pt] table[x=t, y=gr]{\marks};
\addlegendentry{Greece}
\addplot[solid, mark=o, mark size=3.5pt] table[x=t, y=ie]{\marks};
\addlegendentry{Ireland}
\addplot[solid, mark=asterisk, mark size=3.5pt] table[x=t, y=it]{\marks};
\addlegendentry{Italy}
\addplot[mark=none, dash pattern=on 6pt off 3pt on 0.7pt off 3pt] table[x=t, y=nl]{\lines};
\addlegendentry{Netherlands}
\addplot[solid, mark=x, mark size=3.5pt] table[x=t, y=pt]{\marks};
\addlegendentry{Portugal}
\end{axis}
\end{tikzpicture}
\end{document}
